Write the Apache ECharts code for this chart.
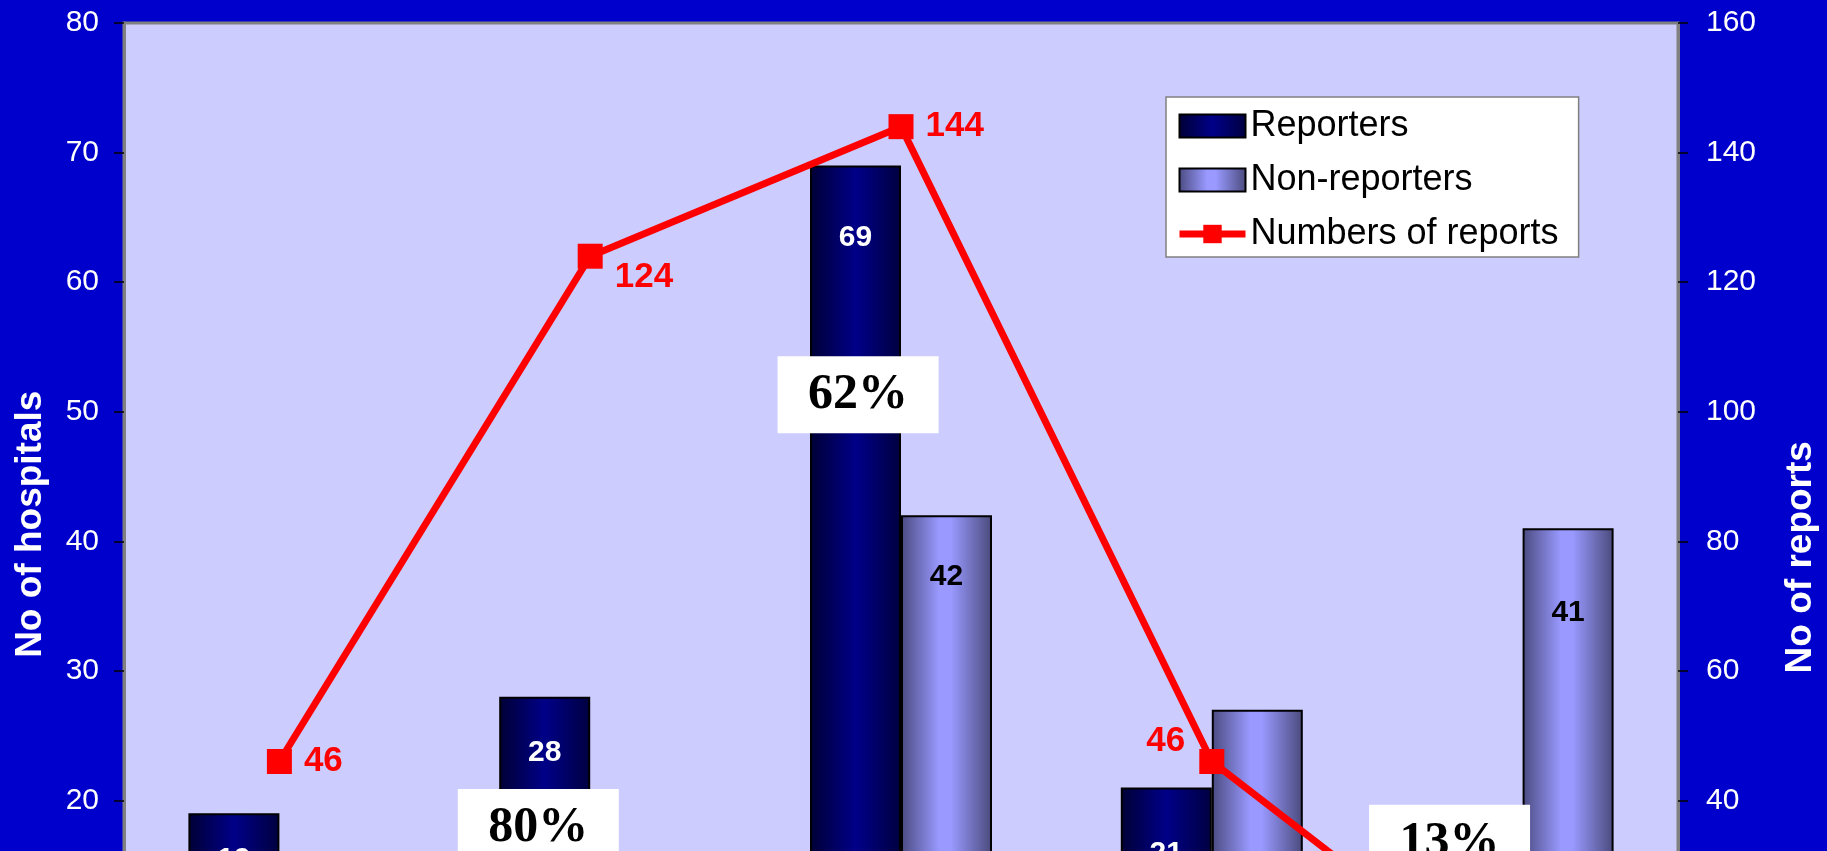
<!DOCTYPE html>
<html>
<head>
<meta charset="utf-8">
<script src="https://cdn.jsdelivr.net/npm/echarts@6/dist/echarts.min.js"></script>
<style>
html,body{margin:0;padding:0;background:#0000cc;overflow:hidden;}
#chart{width:1827px;height:1120px;}
</style>
</head>
<body>
<div id="chart"></div>
<script>
// ---- data ----
const categories = ['Group 1', 'Group 2', 'Group 3', 'Group 4', 'Group 5'];
const reporters = [19, 28, 69, 21, 6];
const nonReporters = [5, 7, 42, 27, 41];
const reports = [46, 124, 144, 46, 9];
const leftTicks = [0, 10, 20, 30, 40, 50, 60, 70, 80];
const rightTicks = [0, 20, 40, 60, 80, 100, 120, 140, 160];
const pctLabels = ['80%', '62%', '13%'];
const pctX = [0.833, 1.862, 3.765];
const pctY = [17.9, 51.3, 16.7];

// ---- label styling (not data) ----
const repLabelDist = [31, 41, 57, 51, 44];
const nonLabelDist = [50, 50, 46, null, 69];
const repLabelStyle = [
  {position: 'right', distance: 12, offset: [0, 0]},
  {position: 'right', distance: 12, offset: [0, 21]},
  {position: 'right', distance: 12, offset: [0, 0]},
  {position: 'left', distance: 14, offset: [0, -20]},
  {position: 'right', distance: 12, offset: [0, 0]}
];

const chart = echarts.init(document.getElementById('chart'), null, {renderer: 'canvas'});

const repGrad = new echarts.graphic.LinearGradient(0, 0, 1, 0, [
  {offset: 0, color: '#000035'},
  {offset: 0.5, color: '#000088'},
  {offset: 1, color: '#000040'}
]);
const nonGrad = new echarts.graphic.LinearGradient(0, 0, 1, 0, [
  {offset: 0, color: '#4a4a80'},
  {offset: 0.42, color: '#9999ff'},
  {offset: 0.55, color: '#9999ff'},
  {offset: 1, color: '#4a4a7c'}
]);

const option = {
  backgroundColor: '#0000cc',
  animation: false,
  textStyle: {fontFamily: 'Liberation Sans, Arial, sans-serif'},
  grid: {
    left: 124, right: 148, top: 23, bottom: 60.5,
    show: true, backgroundColor: '#ccccff', borderColor: '#808080', borderWidth: 3
  },
  legend: {
    left: 1166, top: 97,
    orient: 'vertical',
    backgroundColor: '#ffffff',
    borderColor: '#808080', borderWidth: 1.5, borderRadius: 0,
    padding: [11, 20, 5, 10],
    itemWidth: 66, itemHeight: 23, itemGap: 18,
    lineStyle: {width: 7},
    textStyle: {color: '#000000', fontSize: 36, fontFamily: 'Liberation Sans, Arial, sans-serif'},
    data: [
      {name: 'Reporters', icon: 'rect'},
      {name: 'Non-reporters', icon: 'rect'},
      {name: 'Numbers of reports'}
    ]
  },
  xAxis: [
    {
      type: 'category', data: categories, position: 'bottom',
      axisLine: {show: false}, axisTick: {show: false}, axisLabel: {show: false}
    },
    {
      type: 'value', min: -0.5, max: 4.5, show: false, position: 'bottom'
    }
  ],
  yAxis: [
    {
      type: 'value', min: 0, max: 80, interval: 10, position: 'left',
      name: 'No of hospitals', nameLocation: 'middle', nameGap: 75, nameRotate: 90,
      nameTextStyle: {color: '#ffffff', fontSize: 37, fontWeight: 'bold', padding: [0, 0, 0, 34]},
      axisLine: {show: true, onZero: false, lineStyle: {color: '#808080', width: 3}},
      axisTick: {show: true, length: 10, lineStyle: {color: '#000000', width: 1.5}},
      axisLabel: {color: '#ffffff', fontSize: 30, margin: 25},
      splitLine: {show: false}
    },
    {
      type: 'value', min: 0, max: 160, interval: 20, position: 'right',
      name: 'No of reports', nameLocation: 'middle', nameGap: 104, nameRotate: 90,
      nameTextStyle: {color: '#ffffff', fontSize: 37, fontWeight: 'bold', padding: [0, 32, 0, 0]},
      axisLine: {show: true, onZero: false, lineStyle: {color: '#808080', width: 3}},
      axisTick: {show: true, length: 10, lineStyle: {color: '#000000', width: 1.5}},
      axisLabel: {color: '#ffffff', fontSize: 30, margin: 28},
      splitLine: {show: false}
    }
  ],
  series: [
    {
      name: 'Reporters', type: 'bar',
      data: reporters.map((v, i) => ({value: v, label: {distance: repLabelDist[i]}})),
      xAxisIndex: 0, yAxisIndex: 0,
      barWidth: 91, barGap: '0%',
      itemStyle: {color: repGrad, borderColor: '#000000', borderWidth: 2},
      label: {show: true, position: 'insideTop', color: '#ffffff',
        fontSize: 30, fontWeight: 'bold'},
      z: 2
    },
    {
      name: 'Non-reporters', type: 'bar',
      data: nonReporters.map((v, i) => ({value: v,
        label: nonLabelDist[i] === null ? {show: false} : {distance: nonLabelDist[i]}})),
      xAxisIndex: 0, yAxisIndex: 0,
      barWidth: 91, barGap: '0%',
      itemStyle: {color: nonGrad, borderColor: '#000000', borderWidth: 2},
      label: {show: true, position: 'insideTop', color: '#000000',
        fontSize: 30, fontWeight: 'bold'},
      z: 2
    },
    {
      name: 'Numbers of reports', type: 'line',
      xAxisIndex: 0, yAxisIndex: 1,
      data: reports.map((v, i) => ({value: v, label: repLabelStyle[i]})),
      symbol: 'rect', symbolSize: 25,
      lineStyle: {color: '#ff0000', width: 7},
      itemStyle: {color: '#ff0000'},
      label: {show: true, color: '#ff0000', fontSize: 35, fontWeight: 'bold'},
      z: 5
    },
    {
      name: 'pct', type: 'scatter',
      xAxisIndex: 1, yAxisIndex: 0,
      data: pctX.map((x, i) => [x, pctY[i], pctLabels[i]]),
      symbolSize: 1,
      itemStyle: {color: 'transparent', opacity: 1},
      emphasis: {disabled: true},
      label: {
        show: true, position: 'inside',
        formatter: p => p.data[2],
        color: '#000000', fontFamily: 'Liberation Serif, Times New Roman, serif',
        fontSize: 50, fontWeight: 'bold', opacity: 1,
        backgroundColor: '#ffffff', width: 161, height: 77, lineHeight: 77,
        align: 'center', verticalAlign: 'middle', padding: 0
      },
      z: 10
    }
  ]
};
chart.setOption(option);
</script>
</body>
</html>
